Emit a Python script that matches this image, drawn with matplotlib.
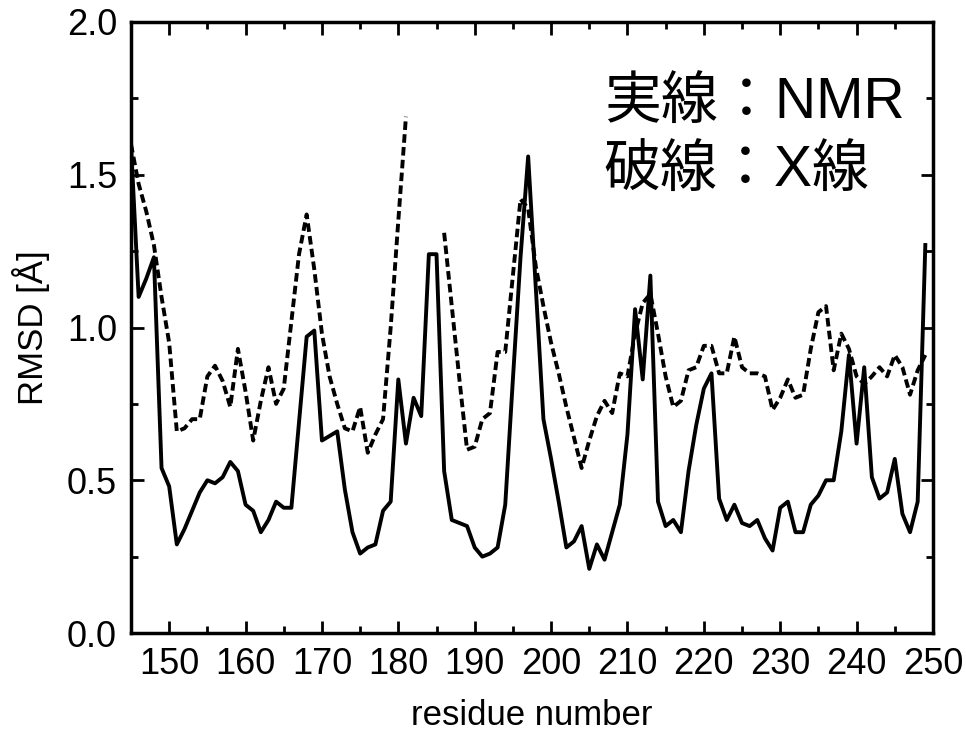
import numpy as np
import matplotlib
matplotlib.use('Agg')
import matplotlib.pyplot as plt

plt.rcParams['font.family'] = ['Liberation Sans', 'Noto Sans CJK JP', 'DejaVu Sans']

# residue numbers 145..249
residues = np.arange(145, 250)

# solid line: NMR
rmsd_nmr = [1.60, 1.10, 1.16, 1.23, 0.54, 0.48, 0.29, 0.34, 0.40, 0.46,   # 145-154
            0.50, 0.49, 0.51, 0.56, 0.53, 0.42, 0.40, 0.33, 0.37, 0.43,   # 155-164
            0.41, 0.41, 0.69, 0.97, 0.99, 0.63, 0.645, 0.66, 0.47, 0.33,  # 165-174
            0.26, 0.28, 0.29, 0.40, 0.43, 0.83, 0.62, 0.77, 0.71, 1.24,   # 175-184
            1.24, 0.53, 0.37, 0.36, 0.35, 0.28, 0.25, 0.26, 0.28, 0.42,   # 185-194
            0.83, 1.23, 1.56, 1.13, 0.70, 0.57, 0.43, 0.28, 0.30, 0.35,   # 195-204
            0.21, 0.29, 0.24, 0.33, 0.42, 0.65, 1.06, 0.83, 1.17, 0.43,   # 205-214
            0.35, 0.37, 0.33, 0.53, 0.68, 0.80, 0.85, 0.44, 0.37, 0.42,   # 215-224
            0.36, 0.35, 0.37, 0.31, 0.27, 0.41, 0.43, 0.33, 0.33, 0.42,   # 225-234
            0.45, 0.50, 0.50, 0.66, 0.91, 0.62, 0.87, 0.51, 0.44, 0.46,   # 235-244
            0.57, 0.39, 0.33, 0.43, 1.27]                                 # 245-249

# dashed line: X-ray (no data for 182-185)
nan = np.nan
rmsd_xray = [1.60, 1.47, 1.38, 1.27, 1.10, 0.95, 0.66, 0.67, 0.70, 0.70,  # 145-154
             0.84, 0.875, 0.825, 0.74, 0.93, 0.79, 0.63, 0.76, 0.87, 0.75, # 155-164
             0.80, 1.02, 1.24, 1.37, 1.19, 0.98, 0.84, 0.75, 0.67, 0.66,  # 165-174
             0.74, 0.59, 0.65, 0.70, 1.00, 1.35, 1.69, nan, nan, nan,     # 175-184
             nan, 1.31, 1.07, 0.83, 0.60, 0.61, 0.70, 0.72, 0.92, 0.92,   # 185-194
             1.17, 1.42, 1.39, 1.20, 1.07, 0.95, 0.85, 0.74, 0.64, 0.54,  # 195-204
             0.63, 0.71, 0.76, 0.72, 0.85, 0.84, 0.98, 1.08, 1.11, 0.98,  # 205-214
             0.84, 0.74, 0.76, 0.86, 0.87, 0.94, 0.94, 0.85, 0.85, 0.97,  # 215-224
             0.87, 0.85, 0.85, 0.84, 0.73, 0.77, 0.83, 0.77, 0.78, 0.93,  # 225-234
             1.05, 1.07, 0.86, 0.98, 0.93, 0.84, 0.815, 0.84, 0.87, 0.84, # 235-244
             0.91, 0.87, 0.78, 0.86, 0.91]                                # 245-249

fig = plt.figure(figsize=(9.66, 7.33), dpi=100)
ax = fig.add_axes([0.1356, 0.1364, 0.8302, 0.8336])

ax.plot(residues, rmsd_nmr, color='black', linewidth=2.8)
ax.plot(residues, rmsd_xray, color='black', linewidth=2.8, linestyle=(0, (2.2, 1.1)))

ax.set_xlim(145, 250)
ax.set_ylim(0, 2.0)
ax.set_xticks(np.arange(150, 251, 10))
ax.set_xticks(np.arange(145, 251, 5), minor=True)
ax.set_yticks(np.arange(0, 2.01, 0.5))
ax.set_yticks(np.arange(0, 2.01, 0.25), minor=True)
ax.yaxis.set_major_formatter(matplotlib.ticker.FormatStrFormatter('%.1f'))

ax.tick_params(which='both', direction='in', top=True, right=True, width=2, labelsize=26)
ax.tick_params(which='major', length=9)
ax.tick_params(which='minor', length=5)
ax.tick_params(axis='x', pad=10)
ax.tick_params(axis='y', pad=10)
for s in ax.spines.values():
    s.set_linewidth(2.5)

ax.set_xlabel('residue number', fontsize=25, labelpad=12)
ax.set_ylabel('RMSD [Å]', fontsize=25, labelpad=12)

# legend text in the upper right
fig.text(0.625, 0.839, '実線：NMR', fontsize=41, va='baseline', ha='left')
fig.text(0.625, 0.745, '破線：X線', fontsize=41, va='baseline', ha='left')

plt.savefig('out.png', dpi=100)
